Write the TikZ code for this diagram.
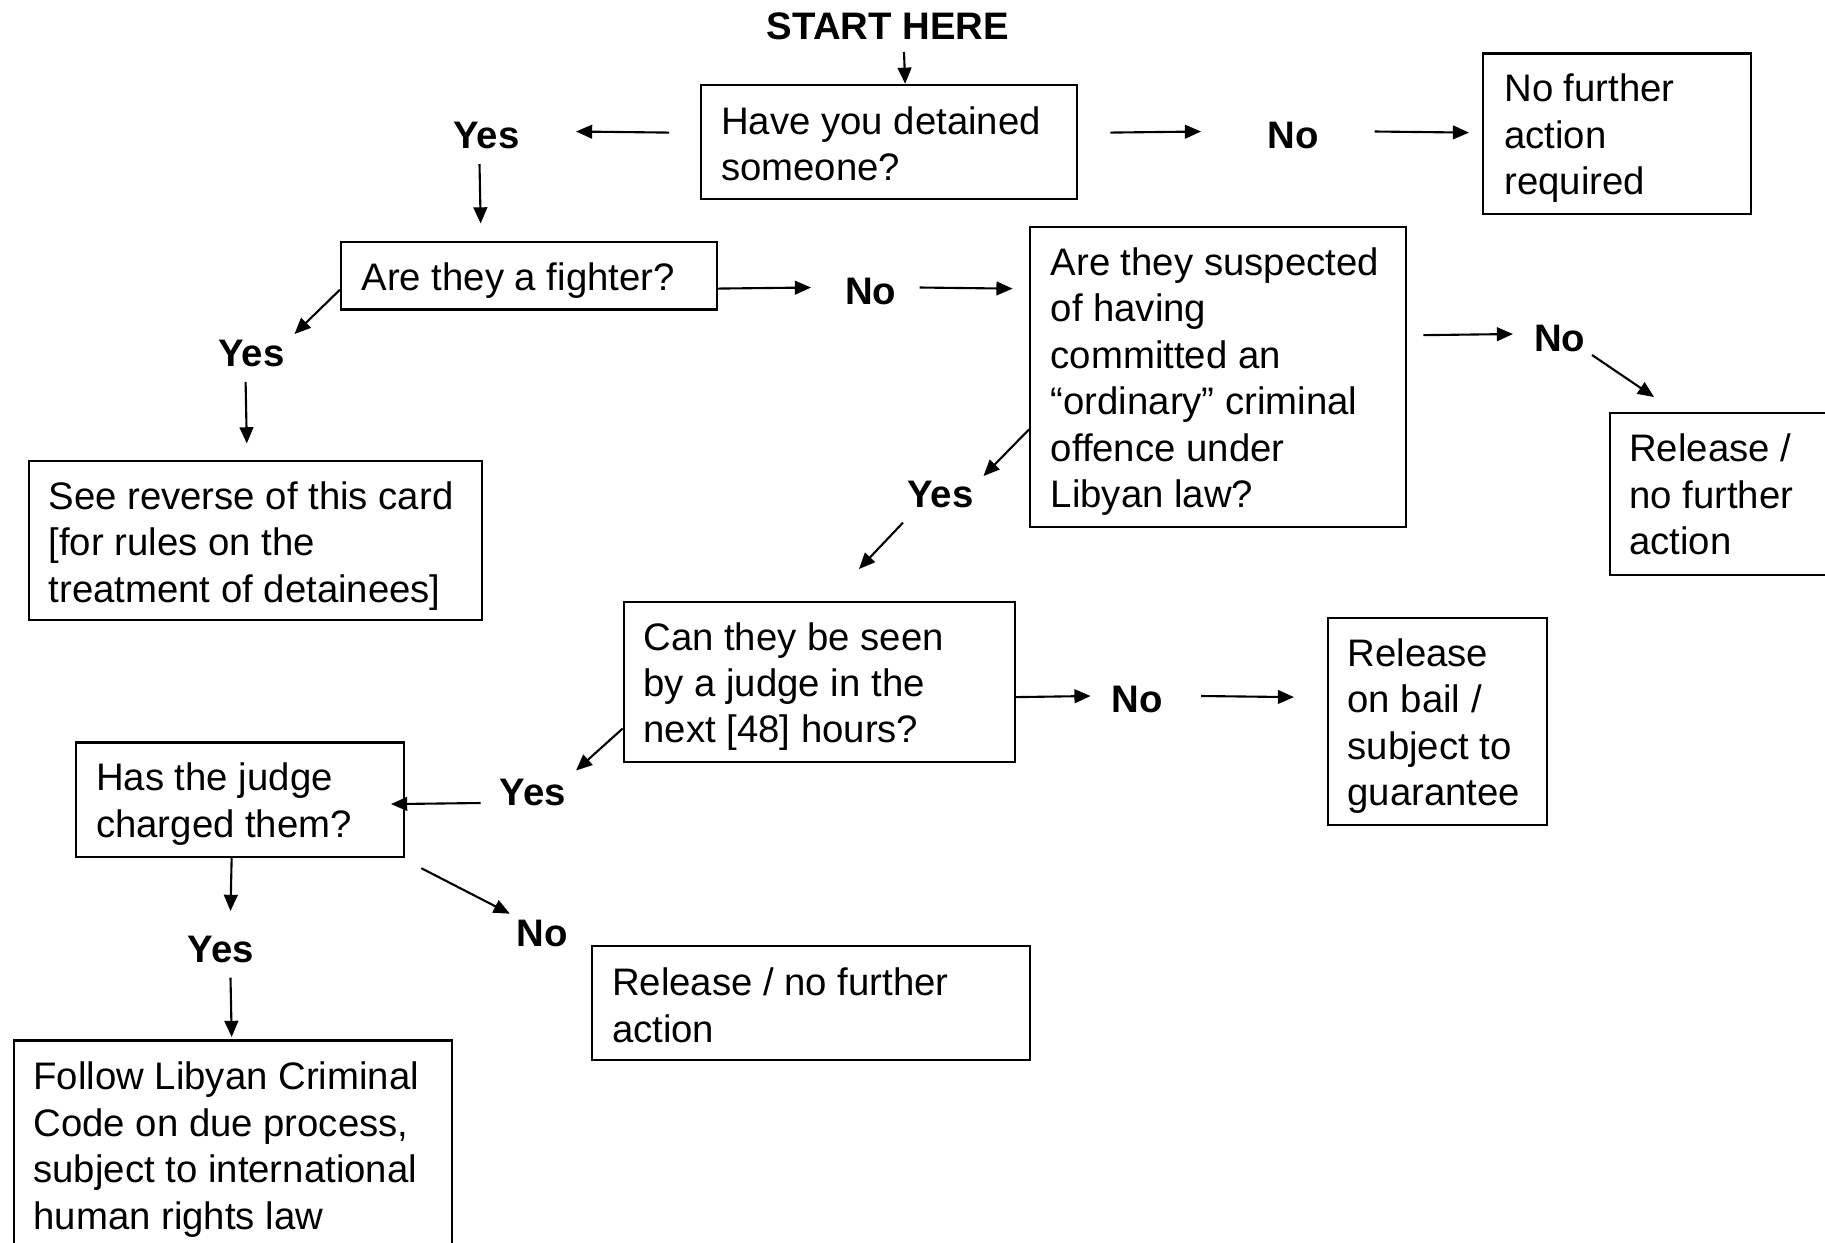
\documentclass[tikz,border=0pt]{standalone}
\usepackage{fontspec}
\setmainfont{Liberation Sans}
\usetikzlibrary{arrows.meta,calc}
\begin{document}
\begin{tikzpicture}[x=0.01cm,y=-0.01cm,
  box/.style={draw, line width=0.6pt, rectangle, inner sep=0pt, anchor=north west},
  txt/.style={inner sep=0pt, align=left, anchor=west, font=\fontsize{10.9}{13.2}\selectfont},
  lbl/.style={inner sep=0pt, font=\bfseries\fontsize{10.9}{13.25}\selectfont},
  arr/.style={line width=0.6pt, -{Triangle[length=4.6pt,width=3.9pt]}}]
\useasboundingbox (0,0) rectangle (1825,1242);

% boxes
\node[box, minimum width=3.76cm, minimum height=1.141cm] (b1) at (699.5,83.8) {};
\node[txt] (b1t) at ($(b1.west)+(21,2)$) {Have you detained\\someone?};

\node[box, minimum width=2.678cm, minimum height=1.606cm] (nfar) at (1481.6,52.4) {};
\node[txt] (nfart) at ($(nfar.west)+(22,4.5)$) {No further\\action\\required};

\node[box, minimum width=3.759cm, minimum height=0.675cm] (fighter) at (339.9,240.9) {};
\node[txt] (fightert) at ($(fighter.west)+(21,4.5)$) {Are they a fighter?};

\node[box, minimum width=3.758cm, minimum height=3.002cm] (b3) at (1029,225.8) {};
\node[txt] (b3t) at ($(b3.west)+(21,4.5)$) {Are they suspected\\of having\\committed an\\“ordinary” criminal\\offence under\\Libyan law?};

\node[box, minimum width=2.3cm, minimum height=1.62cm] (rel1) at (1608.5,412) {};
\node[txt] (rel1t) at ($(rel1.north west)+(20,82.5)$) {Release /\\no further\\action};

\node[box, minimum width=4.528cm, minimum height=1.595cm] (see) at (27.9,459.7) {};
\node[txt] (seet) at ($(see.west)+(20,5.5)$) {See reverse of this card\\{[}for rules on the\\treatment of detainees{]}};

\node[box, minimum width=3.91cm, minimum height=1.606cm] (b4) at (622.7,600.6) {};
\node[txt] (b4t) at ($(b4.west)+(20,4.5)$) {Can they be seen\\by a judge in the\\next [48] hours?};

\node[box, minimum width=2.189cm, minimum height=2.071cm] (bail) at (1326.8,616.9) {};
\node[txt] (bailt) at ($(bail.west)+(20,4.5)$) {Release\\on bail /\\subject to\\guarantee};

\node[box, minimum width=3.282cm, minimum height=1.141cm] (b5) at (74.5,741.4) {};
\node[txt] (b5t) at ($(b5.west)+(21,4.5)$) {Has the judge\\charged them?};

\node[box, minimum width=4.376cm, minimum height=2.09cm] (b6) at (12.8,1039.4) {};
\node[txt] (b6t) at ($(b6.west)+(20,4.5)$) {Follow Libyan Criminal\\Code on due process,\\subject to international\\human rights law};

\node[box, minimum width=4.376cm, minimum height=1.142cm] (b7) at (591.3,945) {};
\node[txt] (b7t) at ($(b7.west)+(20,2)$) {Release / no further\\action};

% labels
\node[lbl] (start) at (888,26) {START HERE};
\node[lbl] (yes1) at (486.5,135) {Yes};
\node[lbl] (no1) at (1293,135) {No};
\node[lbl] (no2) at (870.6,291) {No};
\node[lbl] (yes2) at (251.4,353.8) {Yes};
\node[lbl] (no3) at (1559.6,338.7) {No};
\node[lbl] (yes3) at (940.4,494.7) {Yes};
\node[lbl] (no4) at (1137,699.5) {No};
\node[lbl] (yes4) at (533,792.6) {Yes};
\node[lbl] (yes5) at (221,949.7) {Yes};
\node[lbl] (no5) at (542.4,933.5) {No};

% connectors
\draw[arr] ($(start)+(16,26)$) -- ($(b1.north)+(16.5,0)$);
\draw[arr] ($(b1.west)+(-30.5,-9.35)$) -- ($(yes1)+(89.5,-3.5)$);
\draw[arr] ($(b1.east)+(32.5,-9.35)$) -- ($(no1)+(-92,-3.5)$);
\draw[arr] ($(no1)+(81.6,-3.5)$) -- ($(nfar.west)+(-12.6,-1.2)$);
\draw[arr] ($(yes1)+(-7,29)$) -- ($(fighter.north)+(-48.35,-17.4)$);
\draw[arr] ($(fighter.west)+(0,14)$) -- ($(yes2)+(43.1,-19.8)$);
\draw[arr] ($(yes2)+(-5.8,28)$) -- ($(see.north)+(-8.7,-16.3)$);
\draw[arr] ($(fighter.east)+(0,12.85)$) -- ($(no2)+(-59.6,-3.5)$);
\draw[arr] ($(no2)+(48.9,-3.5)$) -- ($(b3.west)+(-16.4,-88.4)$);
\draw[arr] ($(b3.east)+(16.2,-41.9)$) -- ($(no3)+(-46.6,-4.7)$);
\draw[arr] ($(no3)+(32.4,16.3)$) -- ($(rel1.north west)+(45.5,-15)$);
\draw[arr] ($(b3.west)+(0,52.4)$) -- ($(yes3)+(43.1,-18.7)$);
\draw[arr] ($(yes3)+(-37.4,27.9)$) -- ($(b4.north)+(39.6,-31.6)$);
\draw[arr] ($(b4.east)+(0,15.1)$) -- ($(no4)+(-46.4,-3.5)$);
\draw[arr] ($(no4)+(64,-3.5)$) -- ($(bail.west)+(-32.8,-24.45)$);
\draw[arr] ($(b4.west)+(0,46.5)$) -- ($(yes4)+(43,-22.1)$);
\draw[arr] ($(yes4)+(-52.3,10.4)$) -- ($(b5.east)+(-14,4.55)$);
\draw[arr] ($(b5.south)+(-8.1,0)$) -- ($(yes5)+(9.5,-38.7)$);
\draw[arr] ($(yes5)+(9.5,28)$) -- ($(b6.north)+(-1.1,-2.4)$);
\draw[arr] ($(b5.south east)+(16.3,10.5)$) -- ($(no5)+(-32.6,-19.8)$);
\end{tikzpicture}
\end{document}
